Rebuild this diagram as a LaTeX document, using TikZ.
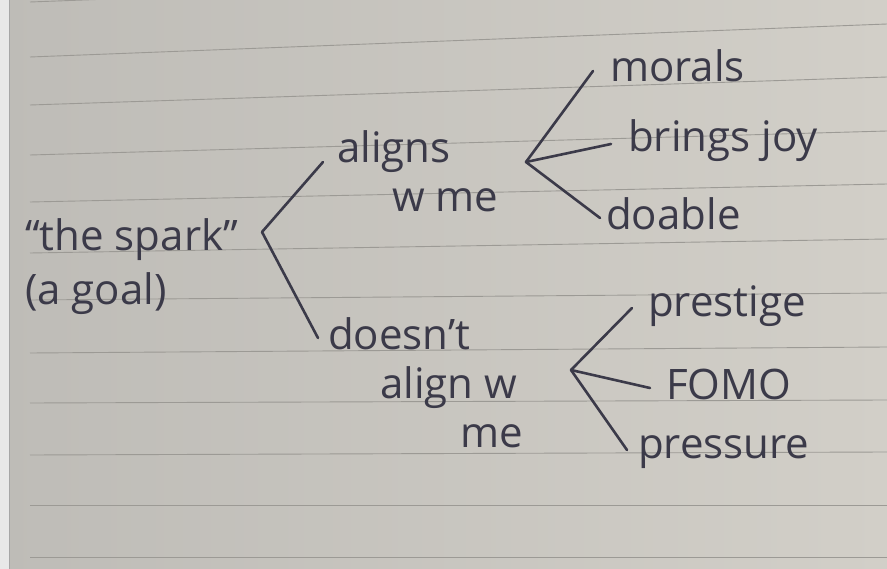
\documentclass[tikz,border=0pt]{standalone}
\usepackage{fontspec}
\setmainfont{Open Sans}
\usepackage{tikz}
\usetikzlibrary{positioning}

\definecolor{ink}{HTML}{3B3A49}
\definecolor{paperL}{HTML}{BEBCB7}
\definecolor{paperR}{HTML}{D2CFC8}
\definecolor{rule}{HTML}{9C9A95}

\begin{document}
\begin{tikzpicture}[
        x=1pt, y=-1pt,
        font=\fontsize{42}{49}\selectfont,
        word/.style={
            anchor=base west,
            inner sep=0pt,
            text=ink,
            align=left
        },
        pen/.style={draw=ink, line width=2.6pt, line cap=round},
        ruling/.style={draw=rule, line width=0.9pt}
    ]
        % notebook page
        \useasboundingbox (0,0) rectangle (887,569);
        \shade[left color=paperL, right color=paperR] (0,0) rectangle (887,569);
        \fill[gray!18] (0,0) rectangle (9,569);
        \draw[gray!70, line width=1pt] (9.5,0) -- (9.5,569);
        \foreach \yl/\yr in {2/-30,57/24,105/77,155/131,202/184,253/239,300/293,353/347,403/400,455/452,505/505,557/557} {
            \draw[ruling] (30,\yl) -- (887,\yr);
        }

        % base anchor of a multi-line node sits on its last line
        \node[word] (spark) at (25,305) {“the spark”\\[5pt](a goal)};

        \node[word] (aligns) at (337,212) {aligns\\\hspace*{55pt}w me};
        \node[word] (notalign) at (328,447) {doesn't\\\hspace*{52pt}align w\\\hspace*{132pt}me};

        \node[word] (morals) at (610,82) {morals};
        \node[word] (joy) at (628,152) {brings joy};
        \node[word] (doable) at (606,230) {doable};

        \node[word] (prestige) at (648,317) {prestige};
        \node[word] (fomo) at (666,400) {FOMO};
        \node[word] (pressure) at (638,458) {pressure};

        \coordinate (forkA) at (262,232);
        \coordinate (forkB) at (526,162);
        \coordinate (forkC) at (571,370);

        \foreach \fork/\target/\dx/\dy in {forkA/aligns/-14/-50,forkA/notalign/-10/-109,
                forkB/morals/-17/-11,forkB/joy/-17/-8,forkB/doable/-6/-12,
                forkC/prestige/-16/-9,forkC/fomo/-16/-12,forkC/pressure/-11/-8} {
            \draw[pen] (\fork) -- ([shift={(\dx,\dy)}]\target.base west);
        }
    \end{tikzpicture}
\end{document}
